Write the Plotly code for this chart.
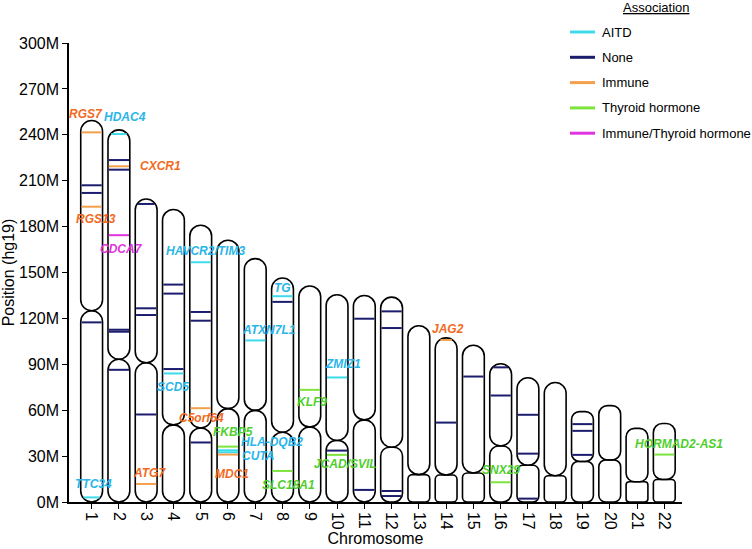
import math
import plotly.graph_objects as go

# ---------------- data ----------------
chromosomes = [str(i) for i in range(1, 23)]
chrom_length_mb = [249.3, 243.2, 198.0, 191.2, 180.9, 171.1, 159.1, 146.4, 141.2, 135.5, 135.0,
                   133.9, 115.2, 107.3, 102.5, 90.4, 81.2, 78.1, 59.1, 63.0, 48.1, 51.3]
centromere_mb = [125.0, 93.3, 91.0, 50.4, 48.4, 61.0, 59.9, 45.6, 49.0, 40.2, 53.7,
                 35.8, 17.9, 17.6, 19.0, 36.6, 24.0, 17.2, 26.5, 27.5, 13.2, 14.7]

locus_chrom = [1, 1, 1, 1, 1, 1,
               2, 2, 2, 2, 2, 2, 2, 2,
               3, 3, 3, 3, 3,
               4, 4, 4, 4,
               5, 5, 5, 5, 5,
               6, 6, 6, 6,
               7,
               8, 8, 8,
               9,
               10, 10, 10,
               11, 11,
               12, 12, 12, 12,
               14, 14,
               15,
               16, 16, 16,
               17, 17, 17,
               19, 19, 19,
               22]
locus_pos_mb = [241.6, 207.0, 202.0, 193.0, 117.4, 3.0,
                240.5, 223.5, 219.4, 217.2, 174.4, 112.6, 111.3, 86.4,
                194.8, 126.6, 122.2, 57.2, 11.8,
                142.1, 136.2, 86.9, 84.0,
                156.7, 124.2, 118.5, 61.3, 38.9,
                36.2, 33.8, 32.5, 31.0,
                105.6,
                134.5, 130.8, 20.3,
                73.3,
                81.4, 33.6, 30.8,
                119.8, 7.9,
                124.6, 113.7, 7.2, 3.9,
                105.9, 51.9,
                82.0,
                88.0, 69.6, 12.9,
                57.0, 31.6, 2.2,
                50.9, 46.5, 30.8,
                31.0]
locus_assoc = ["Immune", "None", "None", "Immune", "None", "AITD",
               "AITD", "None", "Immune", "None", "Immune/Thyroid hormone", "None", "None", "None",
               "None", "None", "None", "None", "Immune",
               "None", "None", "None", "AITD",
               "AITD", "None", "None", "Immune", "None",
               "Thyroid hormone", "AITD", "AITD", "Immune",
               "AITD",
               "AITD", "None", "Thyroid hormone",
               "Thyroid hormone",
               "AITD", "None", "Thyroid hormone",
               "None", "None",
               "None", "None", "None", "None",
               "Immune", "None",
               "None",
               "None", "None", "Thyroid hormone",
               "None", "None", "None",
               "None", "None", "None",
               "Thyroid hormone"]
locus_label = ["RGS7", "", "", "RGS13", "", "TTC34",
               "HDAC4", "", "CXCR1", "", "CDCA7", "", "", "",
               "", "", "", "", "ATG7",
               "", "", "", "SCD5",
               "HAVCR2/TIM3", "", "", "C5orf64", "",
               "FKBP5", "HLA-DQB2", "CUTA", "MDC1",
               "ATXN7L1",
               "TG", "", "SLC18A1",
               "KLF9",
               "ZMIZ1", "", "JCAD/SVIL",
               "", "",
               "", "", "", "",
               "JAG2", "",
               "",
               "", "", "SNX29",
               "", "", "",
               "", "", "",
               "HORMAD2-AS1"]

categories = ["AITD", "None", "Immune", "Thyroid hormone", "Immune/Thyroid hormone"]
legend_title = "Association"
y_ticks = list(range(0, 301, 30))
y_tick_labels = [f"{v}M" for v in y_ticks]

# ---------------- styles / layout ----------------
line_colors = {"AITD": "#3ddbea", "None": "#1c1c6e", "Immune": "#f3a04c",
               "Thyroid hormone": "#7ee43c", "Immune/Thyroid hormone": "#e034e0"}
text_colors = {"AITD": "#29b5e8", "None": "#1c1c6e", "Immune": "#f26a22",
               "Thyroid hormone": "#4fcf2c", "Immune/Thyroid hormone": "#e034e0"}
# label offsets (px) relative to their locus line
label_shift = {"RGS7": (-6, 18), "RGS13": (4, -12), "TTC34": (2, 13), "HDAC4": (6, 17),
               "CXCR1": (42, 0), "CDCA7": (3, -14), "ATG7": (3, 11), "SCD5": (0, -14),
               "HAVCR2/TIM3": (5, 11), "C5orf64": (1, -10), "FKBP5": (5, 15),
               "HLA-DQB2": (44, 8), "CUTA": (30, -4), "MDC1": (4, -19), "ATXN7L1": (14, 10),
               "TG": (0, 8), "SLC18A1": (6, -14), "KLF9": (2, -12), "ZMIZ1": (6, 13),
               "JCAD/SVIL": (8, -9), "JAG2": (2, 11), "SNX29": (0, 12), "HORMAD2-AS1": (15, 11)}

W, H = 752, 549
M_L, M_R, M_T, M_B = 69, 70, 43, 47
X_RANGE = [0.17, 22.65]
Y_RANGE = [0, 300]
plot_w = W - M_L - M_R
plot_h = H - M_T - M_B
px_per_x = plot_w / (X_RANGE[1] - X_RANGE[0])
px_per_y = plot_h / (Y_RANGE[1] - Y_RANGE[0])
HALF_W = 0.4                      # half chromosome width in x units
half_w_px = HALF_W * px_per_x
K = 0.5523


def corner_px(arm_len):
    return min(half_w_px, 0.16 * arm_len * px_per_y)


def arm_path(c, y0, y1):
    r = corner_px(y1 - y0)
    rx = r / px_per_x
    ry = r / px_per_y
    x0, x1 = c - HALF_W, c + HALF_W
    p = [f"M{x0},{y0 + ry}", f"L{x0},{y1 - ry}",
         f"C{x0},{y1 - ry + K * ry} {x0 + rx - K * rx},{y1} {x0 + rx},{y1}",
         f"L{x1 - rx},{y1}",
         f"C{x1 - rx + K * rx},{y1} {x1},{y1 - ry + K * ry} {x1},{y1 - ry}",
         f"L{x1},{y0 + ry}",
         f"C{x1},{y0 + ry - K * ry} {x1 - rx + K * rx},{y0} {x1 - rx},{y0}",
         f"L{x0 + rx},{y0}",
         f"C{x0 + rx - K * rx},{y0} {x0},{y0 + ry - K * ry} {x0},{y0 + ry}", "Z"]
    return " ".join(p)


def half_width_at(ci, y):
    """half width (x units) of the chromosome outline at height y"""
    L = chrom_length_mb[ci]
    cen = centromere_mb[ci]
    y0, y1 = (0, cen) if y <= cen else (cen, L)
    r = corner_px(y1 - y0)
    d = 0
    yp = (y - y0) * px_per_y
    top = (y1 - y) * px_per_y
    if yp < r:
        d = r - yp
    elif top < r:
        d = r - top
    inset = r - math.sqrt(max(r * r - d * d, 0))
    return HALF_W - inset / px_per_x - 0.03


def px_to_paper(px, py):
    return (px - M_L) / plot_w, (H - M_B - py) / plot_h


shapes = []
for i, c in enumerate(range(1, 23)):
    for y0, y1 in ((0, centromere_mb[i]), (centromere_mb[i], chrom_length_mb[i])):
        shapes.append(dict(type="path", path=arm_path(c, y0, y1), xref="x", yref="y",
                           line=dict(color="black", width=1.6), fillcolor="rgba(0,0,0,0)",
                           layer="below"))

FONT = "Arial, Liberation Sans, sans-serif"
fig = go.Figure()
for cat in categories:
    xs, ys = [], []
    for ch, pos, a in zip(locus_chrom, locus_pos_mb, locus_assoc):
        if a != cat:
            continue
        hw = half_width_at(ch - 1, pos)
        xs += [ch - hw, ch + hw, None]
        ys += [pos, pos, None]
    fig.add_trace(go.Scatter(x=xs, y=ys, mode="lines", name=cat, showlegend=False,
                             line=dict(color=line_colors[cat], width=2), hoverinfo="skip"))

annotations = []
for ch, pos, a, lab in zip(locus_chrom, locus_pos_mb, locus_assoc, locus_label):
    if not lab:
        continue
    dx, dy = label_shift[lab]
    annotations.append(dict(x=ch, y=pos, xref="x", yref="y", text=lab, showarrow=False,
                            xshift=dx, yshift=dy,
                            font=dict(family=FONT, size=12, color=text_colors[a],
                                      weight="bold", style="italic")))

# manual legend (title + line samples + labels)
LEG_X0, LEG_X1, LEG_TXT = 570, 595, 600
LEG_Y0, LEG_DY = 32, 25.3
tx, ty = px_to_paper(656, 8)
annotations.append(dict(x=tx, y=ty, xref="paper", yref="paper", text=f"<u>{legend_title}</u>",
                        showarrow=False, xanchor="center", yanchor="middle",
                        font=dict(family=FONT, size=13, color="black")))
for k, cat in enumerate(categories):
    py = LEG_Y0 + k * LEG_DY
    xa, ya = px_to_paper(LEG_X0, py)
    xb, _ = px_to_paper(LEG_X1, py)
    shapes.append(dict(type="line", xref="paper", yref="paper", x0=xa, x1=xb, y0=ya, y1=ya,
                       line=dict(color=line_colors[cat], width=3)))
    xt, _ = px_to_paper(LEG_TXT, py)
    annotations.append(dict(x=xt, y=ya, xref="paper", yref="paper", text=cat, showarrow=False,
                            xanchor="left", yanchor="middle",
                            font=dict(family=FONT, size=13, color="black")))

fig.update_layout(
    width=W, height=H, margin=dict(l=M_L, r=M_R, t=M_T, b=M_B),
    paper_bgcolor="white", plot_bgcolor="white",
    font=dict(family=FONT, color="black"),
    shapes=shapes, annotations=annotations, showlegend=False,
    xaxis=dict(range=X_RANGE, tickvals=list(range(1, 23)), ticktext=chromosomes,
               tickangle=90, showgrid=False, zeroline=False, showline=True,
               linecolor="black", linewidth=1.5, ticks="outside", ticklen=5,
               tickcolor="black", tickfont=dict(size=16), automargin=False,
               title=dict(text="Chromosome", font=dict(size=16), standoff=3)),
    yaxis=dict(range=Y_RANGE, tickvals=y_ticks, ticktext=y_tick_labels,
               showgrid=False, zeroline=False, showline=True, linecolor="black",
               linewidth=1.5, ticks="outside", ticklen=5, tickcolor="black",
               tickfont=dict(size=16), automargin=False,
               title=dict(text="Position (hg19)", font=dict(size=16), standoff=4)),
)

fig.write_html("out.html")
